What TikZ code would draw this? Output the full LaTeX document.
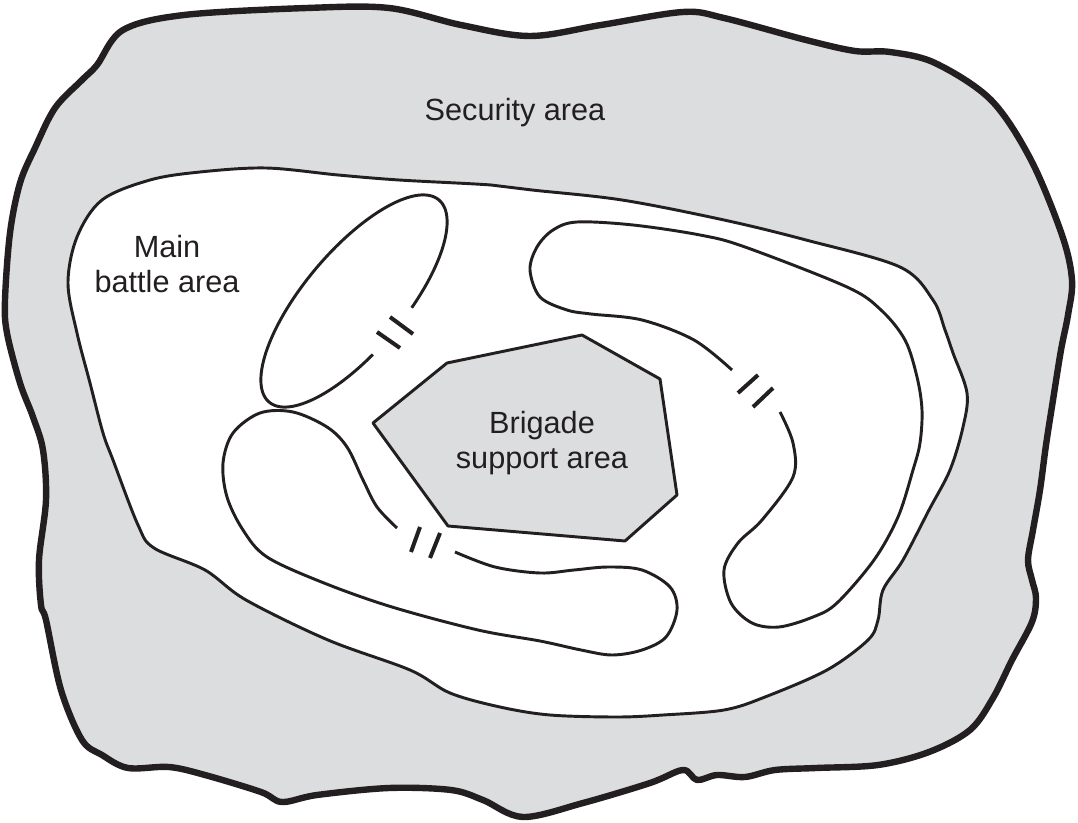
\documentclass[tikz,border=0pt]{standalone}
\usepackage{fontspec}
\setmainfont{Liberation Sans}
\definecolor{areagray}{HTML}{DCDDDF}
\definecolor{ink}{HTML}{231F20}
\begin{document}
\begin{tikzpicture}[x=0.75pt,y=-0.75pt,
  outerline/.style={draw=ink, line width=4.8pt, fill=areagray, line join=round},
  zoneline/.style={draw=ink, line width=2.2pt, line join=round},
  breakmark/.style={draw=ink, line width=3pt},
  lbl/.style={font=\fontsize{23}{26.5}\selectfont, text=ink, align=center, inner sep=0pt, anchor=base}]
\useasboundingbox (0,0) rectangle (1078,823);

% Security area (outer boundary)
\filldraw[outerline] plot[smooth cycle, tension=0.55] coordinates {
 (123,30) (184,15) (307,8) (389,8) (461,25) (530,36) (601,25) (683,12) (724,18)
 (806,40) (855,51) (890,52) (935,63) (991,100) (1031,160) (1062,235) (1072,280)
 (1068,315) (1061,350) (1053,400) (1046,445) (1040,490) (1033,530) (1028,560)
 (1032,580) (1036,598) (1032,622) (1012,660) (993,698) (970,730) (929,752)
 (878,765) (816,768) (775,770) (745,777) (717,775) (697,780) (683,770) (650,783)
 (583,803) (523,817) (483,800) (451,790) (389,788) (317,795) (282,802) (261,792)
 (205,775) (169,767) (128,768) (102,755) (82,740) (61,690) (46,620) (41,605)
 (39,560) (46,500) (43,450) (33,417) (20,383) (7,333) (5,300) (10,233) (20,183)
 (35,148) (55,108) (82,80) (97,65)};

% Main battle area
\filldraw[zoneline, fill=white] plot[smooth cycle, tension=0.55] coordinates {
 (102,200) (150,180) (200,172) (266,168) (338,175) (399,180) (491,185) (532,190)
 (622,200) (724,220) (806,240) (900,267) (933,300) (945,330) (953,353) (967,393)
 (963,427) (950,470) (929,510) (903,560) (883,590) (878,620) (868,640) (827,670)
 (765,697) (724,710) (663,715) (617,717) (550,715) (500,707) (450,693) (410,670)
 (328,640) (246,600) (205,570) (154,548) (138,525) (113,460) (103,433) (90,383)
 (77,333) (68,283) (77,237)};

% Brigade support area
\filldraw[zoneline, fill=areagray] (373,423) -- (447,363) -- (582,335) -- (660,379)
 -- (677,495) -- (625,541) -- (448,526) -- cycle;

% Upper-left oval
\draw[zoneline] plot[domain=102.6:436, samples=120, smooth]
 ({354+84.9*cos(\x)+38.3*sin(\x)}, {301-101.1*cos(\x)+32.2*sin(\x)});

% Right hooked zone
\draw[zoneline] plot[smooth, tension=0.55] coordinates {
 (732,370) (694,340) (642,320) (591,314) (567,310) (540,297) (530,270) (537,247)
 (553,230) (577,222) (633,225) (700,235) (745,247) (847,287) (881,310) (905,340)
 (917,377) (922,410) (920,443) (913,470) (898,517) (874,560) (837,603) (813,617)
 (779,627) (752,623) (731,603) (724,570) (738,543) (762,520) (793,477) (793,443)
 (780,412)};

% Lower-left zone
\draw[zoneline] plot[smooth, tension=0.55] coordinates {
 (397,528) (377,507) (363,480) (347,447) (327,427) (293,412) (260,413) (233,433)
 (223,463) (227,497) (243,530) (267,557) (324,583) (392,607) (478,630) (540,641)
 (581,650) (612,655) (642,650) (666,637) (677,610) (670,587) (642,570) (608,567)
 (574,570) (540,573) (495,567) (455,552)};

% Break marks
\draw[breakmark] (390,317) -- (413,334);
\draw[breakmark] (377,332) -- (400,348);
\draw[breakmark] (738,393) -- (758,375);
\draw[breakmark] (753,407) -- (773,388);
\draw[breakmark] (420,527) -- (411,552);
\draw[breakmark] (440,533) -- (430,558);

% Labels (anchor base = baseline of last line)
\node[lbl] (security) at (515,121) {Security area};
\node[lbl] (mba) at (167,293) {Main\\battle area};
\node[lbl] (bsa) at (542,469) {Brigade\\support area};
\end{tikzpicture}
\end{document}
